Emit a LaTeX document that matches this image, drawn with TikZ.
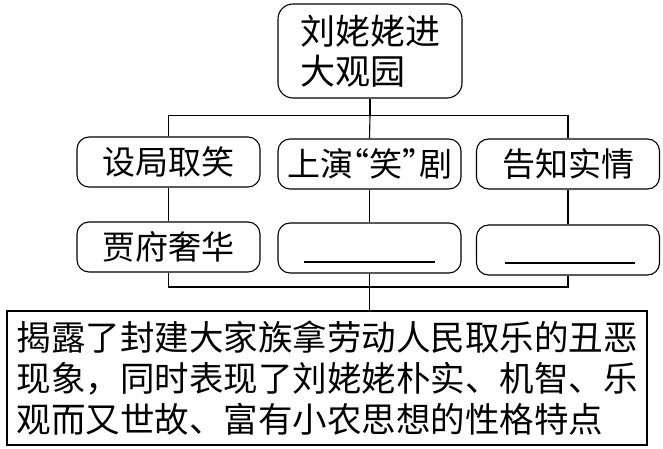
\documentclass[tikz,border=0pt]{standalone}
\usepackage{fontspec}
\newfontfamily\cjk{Noto Sans CJK SC}
\newfontfamily\cjkq[RawFeature=+palt]{Noto Sans CJK SC}
\begin{document}
\begin{tikzpicture}[x=1pt,y=-1pt,line width=1.1pt,
    kuang/.style={draw,rounded corners=12pt,minimum width=183pt,minimum height=50pt,
      inner sep=0pt,font=\cjk\fontsize{33}{40}\selectfont}]
    \useasboundingbox (0,0) rectangle (663,449);
    % 顶部标题
    \node[kuang,rounded corners=15pt,minimum width=184pt,minimum height=94pt,
      align=left,font=\cjk\fontsize{35}{40}\selectfont] (ti) at (370,51) {刘姥姥进\\大观园};
    % 第一层
    \node[kuang] (ju) at (168.5,162) {设局取笑};
    \node[kuang] (yan) at (369.5,164) {上演{\cjkq “}笑{\cjkq ”}剧};
    \node[kuang] (gao) at (568,164) {告知实情};
    % 第二层（两处填空）
    \node[kuang] (jia) at (168.5,247) {贾府奢华};
    \node[kuang] (kong1) at (369.5,248) {};
    \node[kuang] (kong2) at (568,250) {};
    \draw ([xshift=-66pt,yshift=-14pt]kong1.center) -- ++(131,0);
    \draw ([xshift=-63pt,yshift=-13pt]kong2.center) -- ++(130,0);
    % 总结
    \node[draw,minimum width=640pt,minimum height=134pt,inner sep=0pt,align=left,
      font=\cjk\fontsize{34.5}{41}\selectfont] (zong) at (327,378)
      {揭露了封建大家族拿劳动人民取乐的丑恶\\现象，同时表现了刘姥姥朴实、机智、乐\\观而又世故、富有小农思想的性格特点};
    % 连线
    \draw (ti.south) -- ++(0,17) coordinate (fen);
    \draw (ju.north) |- (fen) -| (gao.north);
    \draw (fen) -- (yan.north);
    \draw (ju) -- (jia);
    \draw (yan) -- (kong1);
    \draw (gao) -- (kong2);
    \coordinate (he) at (369.5,287);
    \draw (jia.south) |- (he) -| (kong2.south);
    \draw (kong1.south) -- (he) -- (he |- zong.north);
\end{tikzpicture}
\end{document}
